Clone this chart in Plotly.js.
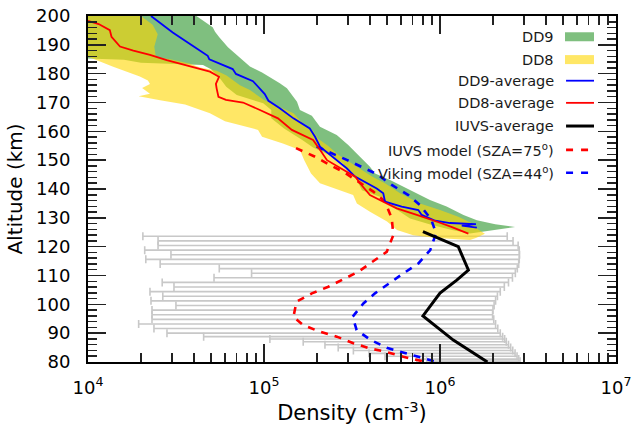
<!DOCTYPE html>
<html>
<head>
<meta charset="utf-8">
<script src="https://cdn.plot.ly/plotly-3.0.1.min.js"></script>
<style>html,body{margin:0;padding:0;background:#fff;}#chart{width:635px;height:426px;}</style>
</head>
<body>
<div id="chart"></div>
<script>
// ---------------- data ----------------
// DD9 envelope (green)
var dd9LowAlt  = [200, 186, 185.3, 184.8, 183.8, 183.0, 181.5, 178.5, 175.5, 172.6, 169.7, 167.4, 164.5, 161, 157, 154.4, 151.2, 148.9, 146.6, 143.1, 139.6, 137.3, 133.9, 129.8, 127.5, 125.8, 124.6];
var dd9Low     = [5e3, 5e3, 1.0e4, 1.6e4, 2.0e4, 4.5e4, 5.0e4, 5.6e4, 6.1e4, 7.0e4, 9.9e4, 1.1e5, 1.1e5, 1.3e5, 1.65e5, 1.9e5, 2.47e5, 2.81e5, 2.97e5, 3.37e5, 3.6e5, 4.56e5, 5.34e5, 6.76e5, 9.0e5, 1.17e6, 1.48e6];
var dd9HighAlt = [200, 196.1, 194.5, 192.6, 189.2, 184.9, 182.5, 180.4, 176.7, 174.9, 170.3, 167.4, 165.4, 161.6, 158.7, 155.3, 151.2, 147.7, 145.4, 143.1, 140.2, 138.5, 136.2, 133.9, 131, 129.2, 127.8, 126.8, 125.5, 124.6];
var dd9High    = [4.13e4, 5.11e4, 5.27e4, 5.57e4, 6.24e4, 7.5e4, 8.32e4, 9.75e4, 1.23e5, 1.35e5, 1.54e5, 1.6e5, 1.87e5, 2.08e5, 2.59e5, 3.01e5, 3.51e5, 4.0e5, 4.28e5, 5.2e5, 6.47e5, 7.38e5, 8.77e5, 1.09e6, 1.36e6, 1.62e6, 2.06e6, 2.67e6, 1.9e6, 1.48e6];

// DD8 envelope (yellow)
var dd8LowAlt  = [200, 186, 185.9, 182.4, 179, 177.6, 176.4, 175, 173, 172.2, 170.8, 169.3, 166.3, 163.5, 160.5, 158.1, 155.8, 153.5, 150.1, 145.4, 142, 140, 137.9, 135, 132.1, 128.7, 125.8, 124, 123, 122.3];
var dd8Low     = [5e3, 5e3, 1.0e4, 1.39e4, 1.97e4, 2.19e4, 2.25e4, 2.03e4, 2.25e4, 1.94e4, 2.57e4, 3.56e4, 4.93e4, 6.0e4, 9.25e4, 9.75e4, 1.28e5, 1.6e5, 1.69e5, 1.85e5, 2.08e5, 2.6e5, 3.21e5, 3.37e5, 4.0e5, 5.0e5, 5.7e5, 7.04e5, 9.6e5, 1.48e6];
var dd8HighAlt = [200, 197, 193.7, 189.3, 185.8, 184.8, 183.4, 182.1, 181, 179.4, 176, 174.3, 170.9, 168.5, 166.3, 162.5, 160.2, 157.4, 155, 152, 149, 144.3, 142, 138.5, 135, 132.7, 130.4, 128.1, 126, 124.5, 123, 122.3];
var dd8High    = [2.0e4, 2.33e4, 2.49e4, 2.38e4, 2.43e4, 3.03e4, 3.8e4, 4.33e4, 5.38e4, 6.13e4, 7.3e4, 8.32e4, 1.0e5, 1.23e5, 1.47e5, 1.67e5, 1.9e5, 2.03e5, 2.31e5, 2.63e5, 3.16e5, 4.11e5, 4.87e5, 5.93e5, 7.7e5, 1.0e6, 1.27e6, 1.52e6, 1.64e6, 1.8e6, 1.6e6, 1.48e6];

// averages
var dd9AvgAlt = [200, 194.3, 189.7, 186.2, 185.0, 181.6, 179.9, 177.4, 172.9, 170.6, 168, 164.5, 161, 158.1, 154.7, 152.4, 149.5, 147.2, 144.3, 140.2, 138.5, 135.6, 133.9, 132.7, 131.0, 129.8, 129.0, 128.2, 127.8, 127.3, 126.6];
var dd9Avg    = [2.28e4, 3.03e4, 3.93e4, 4.79e4, 4.89e4, 6.64e4, 6.93e4, 8.66e4, 1.01e5, 1.06e5, 1.23e5, 1.47e5, 1.82e5, 1.95e5, 2.08e5, 2.32e5, 2.63e5, 2.95e5, 3.29e5, 4.37e5, 4.76e5, 4.87e5, 6.06e5, 7.53e5, 7.87e5, 8.77e5, 9.4e5, 1.14e6, 1.6e6, 1.33e6, 1.62e6];
var dd8AvgAlt = [199.5, 198.3, 197.2, 195.1, 192.8, 189.4, 188, 186.5, 184.7, 182.4, 180.7, 178.9, 176.5, 174.9, 172, 170.9, 170, 167.4, 164.5, 160.5, 158.7, 157, 153.6, 150, 146, 144.3, 142, 137.9, 135.6, 133.3, 131, 129.8, 128.3, 126.8, 125.2, 124.5];
var dd8Avg    = [9.0e3, 1.0e4, 1.15e4, 1.33e4, 1.36e4, 1.52e4, 1.81e4, 2.25e4, 2.8e4, 3.8e4, 4.93e4, 5.55e4, 5.33e4, 5.38e4, 5.51e4, 6.08e4, 7.6e4, 9.48e4, 1.2e5, 1.44e5, 1.67e5, 1.9e5, 2.08e5, 2.28e5, 2.95e5, 3.3e5, 3.51e5, 4.0e5, 4.76e5, 5.68e5, 7.38e5, 8.5e5, 1.0e6, 1.17e6, 1.35e6, 1.45e6];

// IUVS average profile
var iuvsAlt = [125.2, 120, 111.9, 108.4, 103.9, 96.0, 87.6, 84, 80];
var iuvsAvg = [8.0e5, 1.27e6, 1.45e6, 1.245e6, 1.0e6, 8.0e5, 1.19e6, 1.47e6, 1.86e6];

// IUVS individual retrievals: centre and error-bar ends
var errAlt    = [123.6, 122.0, 120.4, 118.8, 117.2, 115.6, 114.0, 112.4, 110.8, 109.2, 107.6, 106.0, 104.4, 102.8, 101.2, 99.6, 98.0, 96.4, 94.8, 93.2, 91.6, 90.0, 88.8, 88.0, 87.0, 86.0, 85.0, 84.0, 83.0, 82.0, 81.0, 80.3];
var errCenter = [9.2e5, 1.06e6, 1.21e6, 1.29e6, 1.32e6, 1.36e6, 1.40e6, 1.44e6, 1.39e6, 1.29e6, 1.2e6, 1.11e6, 1.03e6, 9.8e5, 9.3e5, 8.9e5, 8.5e5, 8.1e5, 8.6e5, 9.2e5, 9.9e5, 1.06e6, 1.13e6, 1.17e6, 1.23e6, 1.31e6, 1.39e6, 1.46e6, 1.54e6, 1.63e6, 1.72e6, 1.8e6];
var errLow    = [2.05e4, 2.5e4, 2.5e4, 2.1e4, 2.96e4, 2.13e4, 2.57e4, 5.57e4, 8.5e4, 5.2e4, 2.64e4, 3.08e4, 2.25e4, 2.66e4, 2.28e4, 3.16e4, 2.31e4, 2.31e4, 2.31e4, 1.94e4, 2.37e4, 2.81e4, 4.54e4, 1.08e5, 1.67e5, 2.22e5, 2.64e5, 3.22e5, 3.95e5, 4.87e5, 7.38e5, 8.4e5];
var errHigh   = [2.41e6, 2.6e6, 2.78e6, 2.82e6, 2.83e6, 2.82e6, 2.8e6, 2.75e6, 2.68e6, 2.58e6, 2.45e6, 2.32e6, 2.2e6, 2.12e6, 2.07e6, 2.03e6, 2.0e6, 1.99e6, 2.02e6, 2.07e6, 2.13e6, 2.2e6, 2.27e6, 2.33e6, 2.38e6, 2.45e6, 2.52e6, 2.59e6, 2.67e6, 2.74e6, 2.8e6, 2.85e6];

// models
var iuvsModelAlt = [154.2, 151.2, 148.3, 146.0, 139.1, 135.6, 129.8, 124.0, 118.2, 114.2, 111.3, 108.4, 106.1, 103.8, 100.9, 95.7, 92.8, 90.5, 88.8, 86.5, 84.7, 83.6, 81.8, 80.0];
var iuvsModel    = [1.52e5, 1.95e5, 2.37e5, 2.82e5, 4.18e5, 4.87e5, 5.32e5, 5.43e5, 4.98e5, 4.0e5, 3.43e5, 2.76e5, 2.32e5, 1.87e5, 1.53e5, 1.47e5, 1.67e5, 2.08e5, 2.59e5, 3.22e5, 4.0e5, 4.87e5, 6.19e5, 8.3e5];
var vikingAlt = [154.7, 150.1, 145.2, 141.4, 137.9, 134.4, 129.5, 124.7, 118.8, 114.2, 110.7, 107.2, 103.8, 100.3, 95.7, 91.1, 87.8, 84.9, 83.2, 81.5, 80.0];
var viking    = [1.99e5, 2.95e5, 4.37e5, 5.32e5, 6.61e5, 7.7e5, 8.9e5, 9.5e5, 8.8e5, 7.54e5, 6.18e5, 5.08e5, 4.27e5, 3.67e5, 3.19e5, 3.36e5, 4.0e5, 4.98e5, 6.2e5, 7.7e5, 9.6e5];

var xTickVals = [1e4, 1e5, 1e6, 1e7];
var xTickText = ['10<sup>4</sup>', '10<sup>5</sup>', '10<sup>6</sup>', '10<sup>7</sup>'];
var legendLabels = ['DD9', 'DD8', 'DD9-average', 'DD8-average', 'IUVS-average', 'IUVS model (SZA=75<sup>o</sup>)', 'Viking model (SZA=44<sup>o</sup>)'];

// ---------------- build traces ----------------
function band(lowAlt, low, highAlt, high) {
  return {
    x: low.concat(high.slice().reverse()),
    y: lowAlt.concat(highAlt.slice().reverse())
  };
}
var b9 = band(dd9LowAlt, dd9Low, dd9HighAlt, dd9High);
var b8 = band(dd8LowAlt, dd8Low, dd8HighAlt, dd8High);

var GREEN = 'rgba(0,128,0,0.5)';
var GOLD = 'rgba(255,215,0,0.6)';
var ERR = '#c8c8c8';

var traces = [
  {x: errCenter, y: errAlt, type: 'scatter', mode: 'markers',
   marker: {size: 1, color: 'rgba(0,0,0,0)'},
   error_x: {type: 'data', symmetric: false,
             array: errHigh.map(function (h, i) { return h - errCenter[i]; }),
             arrayminus: errLow.map(function (l, i) { return errCenter[i] - l; }),
             color: ERR, thickness: 1.6, width: 4},
   hoverinfo: 'skip'},
  {x: b9.x, y: b9.y, type: 'scatter', mode: 'lines', fill: 'toself',
   fillcolor: GREEN, line: {width: 0, color: 'rgba(0,0,0,0)'}, hoverinfo: 'skip'},
  {x: b8.x, y: b8.y, type: 'scatter', mode: 'lines', fill: 'toself',
   fillcolor: GOLD, line: {width: 0, color: 'rgba(0,0,0,0)'}, hoverinfo: 'skip'},
  {x: iuvsModel, y: iuvsModelAlt, type: 'scatter', mode: 'lines',
   line: {color: '#ff0000', width: 2.6, dash: '7px,7px'}},
  {x: viking, y: vikingAlt, type: 'scatter', mode: 'lines',
   line: {color: '#0000ff', width: 2.6, dash: '7px,7px'}},
  {x: dd9Avg, y: dd9AvgAlt, type: 'scatter', mode: 'lines',
   line: {color: '#0000ff', width: 1.8}},
  {x: dd8Avg, y: dd8AvgAlt, type: 'scatter', mode: 'lines',
   line: {color: '#ff0000', width: 1.8}},
  {x: iuvsAvg, y: iuvsAlt, type: 'scatter', mode: 'lines',
   line: {color: '#000000', width: 3}}
];

// ---------------- legend (drawn by hand, symbols on the right) ----------------
var rowY = [0.940, 0.874, 0.813, 0.749, 0.682, 0.613, 0.547];
var annotations = [];
var shapes = [];
var symX0 = 0.9034, symX1 = 0.9583;
legendLabels.forEach(function (lab, i) {
  annotations.push({xref: 'paper', yref: 'paper', x: 0.8864, y: rowY[i],
    xanchor: 'right', yanchor: 'middle', showarrow: false, text: lab,
    font: {family: 'DejaVu Sans', size: 14.5, color: '#1a1a1a'}});
});
shapes.push({type: 'rect', xref: 'paper', yref: 'paper', x0: symX0, x1: symX1,
  y0: rowY[0] - 0.013, y1: rowY[0] + 0.013, fillcolor: GREEN, line: {width: 0}});
shapes.push({type: 'rect', xref: 'paper', yref: 'paper', x0: symX0, x1: symX1,
  y0: rowY[1] - 0.013, y1: rowY[1] + 0.013, fillcolor: GOLD, line: {width: 0}});
var legLines = [
  {c: '#0000ff', w: 1.8, d: 'solid'},
  {c: '#ff0000', w: 1.8, d: 'solid'},
  {c: '#000000', w: 3, d: 'solid'},
  {c: '#ff0000', w: 2.6, d: '7px,8px'},
  {c: '#0000ff', w: 2.6, d: '7px,8px'}
];
legLines.forEach(function (s, k) {
  var y = rowY[k + 2];
  shapes.push({type: 'line', xref: 'paper', yref: 'paper', x0: symX0 + 0.002, x1: symX1,
    y0: y, y1: y, line: {color: s.c, width: s.w, dash: s.d}});
});

var tickFont = {family: 'DejaVu Sans', size: 18, color: '#000'};
var layout = {
  width: 635, height: 426,
  margin: {l: 88, r: 19, t: 16, b: 64, pad: 0},
  paper_bgcolor: '#fff', plot_bgcolor: '#fff',
  showlegend: false,
  font: {family: 'DejaVu Sans', color: '#000'},
  xaxis: {
    type: 'log', range: [4, 7],
    tickmode: 'array', tickvals: xTickVals, ticktext: xTickText,
    ticks: 'inside', ticklen: 18, tickwidth: 1.5, tickcolor: '#222',
    minor: {dtick: 'D1', ticks: 'inside', ticklen: 9, tickwidth: 1.5, tickcolor: '#222', showgrid: false},
    showline: true, linewidth: 2, linecolor: '#000', mirror: 'ticks',
    showgrid: false, zeroline: false,
    tickfont: tickFont, ticklabelstandoff: 8,
    title: {text: 'Density (cm<sup>-3</sup>)', font: {family: 'DejaVu Sans', size: 21, color: '#000'}, standoff: 4}
  },
  yaxis: {
    range: [80, 200], tickmode: 'linear', tick0: 0, dtick: 10,
    ticks: 'inside', ticklen: 18, tickwidth: 1.5, tickcolor: '#222',
    minor: {dtick: 2, ticks: 'inside', ticklen: 9, tickwidth: 1.5, tickcolor: '#222', showgrid: false},
    showline: true, linewidth: 2, linecolor: '#000', mirror: 'ticks',
    showgrid: false, zeroline: false,
    tickfont: tickFont, ticklabelstandoff: 12,
    title: {text: 'Altitude (km)', font: {family: 'DejaVu Sans', size: 20, color: '#000'}, standoff: 8}
  },
  annotations: annotations,
  shapes: shapes
};

Plotly.newPlot('chart', traces, layout, {staticPlot: true, displayModeBar: false});
</script>
</body>
</html>
